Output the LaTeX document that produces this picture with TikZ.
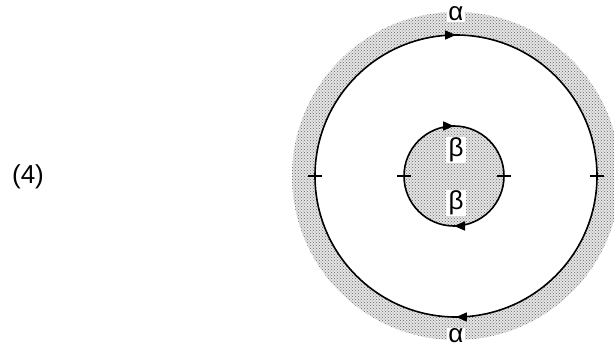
\documentclass[tikz,border=0pt]{standalone}
\usepackage{fontspec}
\setmainfont{Liberation Sans}
\usetikzlibrary{patterns,decorations.markings,arrows.meta}
\begin{document}
\begin{tikzpicture}[x=1pt,y=1pt,
  shadebase/.style={fill=black!10},
  shade/.style={pattern=crosshatch dots,pattern color=black!60},
  ring/.style={line width=1.6pt,postaction={decorate},
    decoration={markings,mark=at position 0.5 with {\arrow{Triangle[length=11pt,width=9pt]}}}},
  tick/.style={line width=2.2pt},
  lbl/.style={fill=white,inner sep=1pt,font=\fontsize{26}{30}\selectfont}]
\useasboundingbox (0,0) rectangle (614,349);
% outer shaded band
\begin{scope}
\clip (0,0) rectangle (614,349);
\fill[shadebase,even odd rule] (456,173) circle (164) (456,173) circle (141);
\fill[shade,even odd rule] (456,173) circle (164) (456,173) circle (141);
\end{scope}
% inner shaded disk
\fill[shadebase] (454,173) circle (50);
\fill[shade] (454,173) circle (50);
% outer circle arcs
\draw[ring] (315,173) arc[start angle=180,end angle=0,radius=141];
\draw[ring] (597,173) arc[start angle=0,end angle=-180,radius=141];
% inner circle arcs
\draw[ring] (404,173) arc[start angle=180,end angle=0,radius=50];
\draw[ring] (504,173) arc[start angle=0,end angle=-180,radius=50];
% ticks
\coordinate (t1a) at (308,173); \coordinate (t1b) at (322,173);
\coordinate (t2a) at (590,173); \coordinate (t2b) at (604,173);
\coordinate (t3a) at (397,173); \coordinate (t3b) at (411,173);
\coordinate (t4a) at (497,173); \coordinate (t4b) at (511,173);
\draw[tick] (t1a) -- (t1b);
\draw[tick] (t2a) -- (t2b);
\draw[tick] (t3a) -- (t3b);
\draw[tick] (t4a) -- (t4b);
% labels
\node[lbl] (atop) at (456,335) {α};
\node[lbl] (abot) at (456,13) {α};
\node[lbl,minimum width=20pt] (btop) at (456,199) {β};
\node[lbl,minimum width=20pt] (bbot) at (456,146) {β};
\node[font=\fontsize{26}{30}\selectfont] (num) at (28,172) {(4)};
\end{tikzpicture}
\end{document}
